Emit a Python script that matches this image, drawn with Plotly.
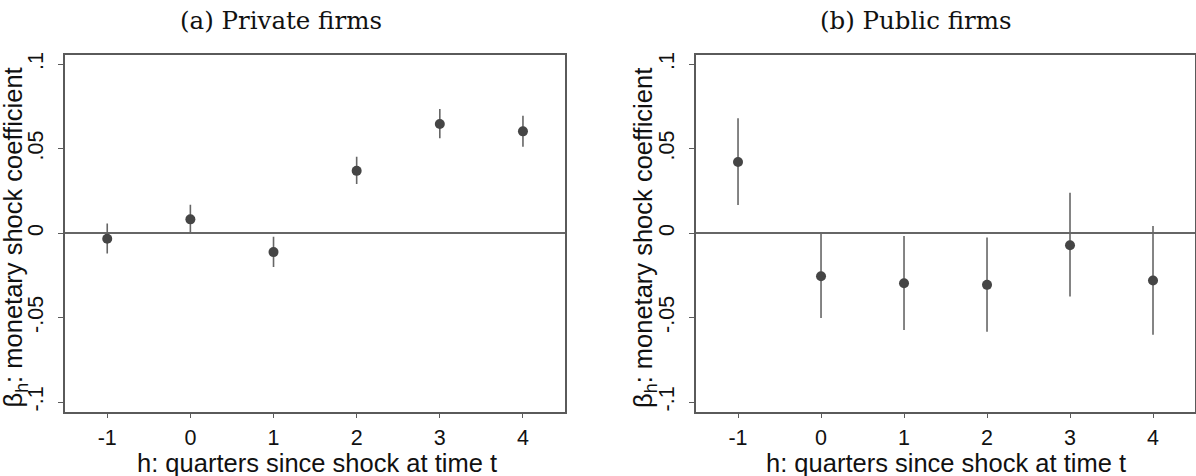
import plotly.graph_objects as go
from plotly.subplots import make_subplots

h = [-1, 0, 1, 2, 3, 4]

# (a) Private firms
priv_coef = [-0.0033, 0.0082, -0.0112, 0.0369, 0.0646, 0.0603]
priv_hi = [0.0057, 0.0169, -0.0021, 0.0452, 0.0736, 0.0695]
priv_lo = [-0.0121, 0.0004, -0.0200, 0.0291, 0.0562, 0.0512]

# (b) Public firms
pub_coef = [0.0422, -0.0255, -0.0296, -0.0306, -0.0071, -0.0280]
pub_hi = [0.0681, 0.0004, -0.0016, -0.0025, 0.0240, 0.0043]
pub_lo = [0.0167, -0.0502, -0.0573, -0.0583, -0.0375, -0.0601]

ytick_vals = [-0.1, -0.05, 0, 0.05, 0.1]
ytick_text = ["-.1", "-.05", "0", ".05", ".1"]
xtick_vals = [-1, 0, 1, 2, 3, 4]
xtick_text = ["-1", "0", "1", "2", "3", "4"]

panel_titles = ["(a) Private firms", "(b) Public firms"]
x_title = "h: quarters since shock at time t"
y_title = "β<sub>h</sub>: monetary shock coefficient"

W, H = 1196, 476


def px(x):
    return x / W


def py(y):
    return 1 - y / H


fig = make_subplots(rows=1, cols=2)

MARK = "#454545"
LINE = "#5a5a5a"

for i, (c, hi, lo) in enumerate([(priv_coef, priv_hi, priv_lo), (pub_coef, pub_hi, pub_lo)]):
    fig.add_trace(go.Scatter(
        x=h, y=c, mode="markers",
        marker=dict(color=MARK, size=10),
        error_y=dict(type="data", symmetric=False,
                     array=[a - b for a, b in zip(hi, c)],
                     arrayminus=[b - a for a, b in zip(lo, c)],
                     color="#666666", thickness=1.6, width=0),
        showlegend=False), row=1, col=i + 1)

ydom = [py(411.3), py(52)]
xdoms = [[px(65.3), px(565)], [px(696.7), px(1195.5)]]

axfont = dict(family="Liberation Sans, Arial, sans-serif", size=21.5, color="#111111")
for i in range(2):
    xa = "xaxis" if i == 0 else "xaxis2"
    ya = "yaxis" if i == 0 else "yaxis2"
    fig.layout[xa].update(domain=xdoms[i], range=[-1.505, 4.5], tickvals=xtick_vals, ticktext=xtick_text,
                          showgrid=False, zeroline=False, showline=True, mirror=True,
                          linecolor=LINE, linewidth=1.5, ticks="outside", ticklen=5,
                          tickcolor=LINE, tickwidth=1.2, tickfont=axfont, ticklabelstandoff=1)
    fig.layout[ya].update(domain=ydom, range=[-0.1057, 0.1057], tickvals=ytick_vals, ticktext=ytick_text,
                          showgrid=False, zeroline=True, zerolinecolor="#666666", zerolinewidth=1.5,
                          showline=True, mirror=True, linecolor=LINE, linewidth=1.5,
                          ticks="outside", ticklen=5, tickcolor=LINE, tickwidth=1.2,
                          tickangle=-90, tickfont=axfont, ticklabelstandoff=7)

annots = []
title_cx = [281.5, 917]
ytitle_cx = [15, 645]
xtitle_cx = [317, 947]
for i in range(2):
    annots.append(dict(text=panel_titles[i], x=px(title_cx[i]), y=py(18), xref="paper", yref="paper",
                       xanchor="center", yanchor="middle", showarrow=False,
                       font=dict(family="DejaVu Serif, serif", size=24.5, color="#111111")))
    annots.append(dict(text=y_title, x=px(ytitle_cx[i]), y=py(236), xref="paper", yref="paper",
                       xanchor="center", yanchor="middle", showarrow=False, textangle=-90,
                       font=dict(family="Liberation Sans, Arial, sans-serif", size=25.5, color="#111111")))
    annots.append(dict(text=x_title, x=px(xtitle_cx[i]), y=py(462.5), xref="paper", yref="paper",
                       xanchor="center", yanchor="middle", showarrow=False,
                       font=dict(family="Liberation Sans, Arial, sans-serif", size=25.5, color="#111111")))

fig.update_layout(width=W, height=H, margin=dict(l=0, r=0, t=0, b=0),
                  plot_bgcolor="white", paper_bgcolor="white", annotations=annots)

fig.write_html("out.html", config={"displayModeBar": False},
               post_script="document.body.style.margin='0';document.body.style.overflow='hidden';")
